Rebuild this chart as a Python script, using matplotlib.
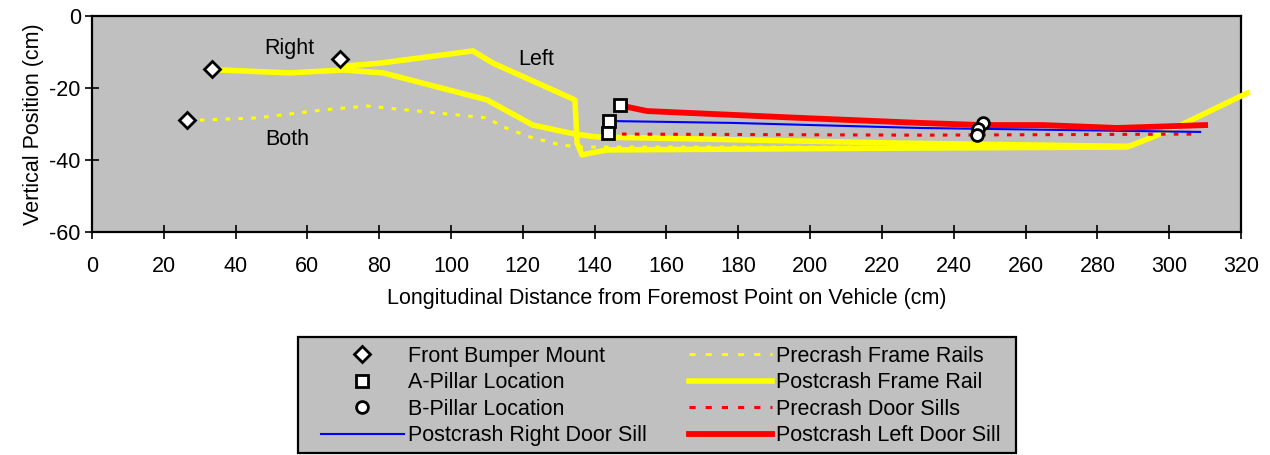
import matplotlib
matplotlib.use("Agg")
import matplotlib.pyplot as plt
from matplotlib.patches import Rectangle

plt.rcParams['font.family'] = ['Liberation Sans', 'DejaVu Sans']
plt.rcParams['axes.unicode_minus'] = False

# Front bumper mounts (diamonds)
bumper_x = [33.4, 69.1, 26.5]
bumper_y = [-14.7, -11.9, -28.9]

# A-pillar locations (squares)
apillar_x = [147.1, 144.0, 143.7]
apillar_y = [-24.7, -29.2, -32.5]

# B-pillar locations (circles)
bpillar_x = [248.2, 246.8, 246.5]
bpillar_y = [-29.7, -31.4, -33.0]

# Precrash frame rails (both sides)
pre_rail_x = [26.5, 30.6, 46.0, 64.3, 76.6, 87.7, 110.0, 114.5, 122.0, 130.4, 136.0, 225.0, 292.0]
pre_rail_y = [-28.9, -28.9, -28.3, -26.1, -25.0, -26.1, -28.3, -30.8, -33.6, -35.8, -36.4, -36.4, -36.1]

# Postcrash right frame rail
post_right_rail_x = [33.4, 35.7, 55.2, 69.9, 81.1, 110.0, 122.8, 134.5, 140.7, 225.0, 288.3]
post_right_rail_y = [-14.7, -15.0, -15.8, -15.0, -15.8, -23.3, -30.3, -32.8, -33.6, -35.3, -36.2]

# Postcrash left frame rail
post_left_rail_x = [69.5, 80.2, 106.1, 111.7, 134.5, 135.1, 136.5, 138.7, 143.5, 225.0, 288.3, 294.7, 302.2, 321.7]
post_left_rail_y = [-14.0, -13.1, -9.7, -13.1, -23.3, -35.3, -38.6, -38.1, -37.2, -36.7, -36.4, -33.9, -30.8, -21.4]

# Precrash door sills
pre_sill_x = [147.6, 230.6, 307.8]
pre_sill_y = [-32.8, -33.1, -32.8]

# Postcrash right door sill
post_right_sill_x = [146.2, 178.6, 230.6, 308.6]
post_right_sill_y = [-29.2, -29.7, -31.1, -32.2]

# Postcrash left door sill
post_left_sill_x = [147.1, 149.3, 154.6, 165.7, 197.2, 230.6, 248.2, 264.9, 285.5, 310.0]
post_left_sill_y = [-24.7, -25.3, -26.4, -26.9, -28.3, -29.7, -30.3, -30.3, -31.1, -30.3]

x_ticks = list(range(0, 321, 20))
y_ticks = [0, -20, -40, -60]

FS = 15.5
W, H = 1270, 455

fig = plt.figure(figsize=(12.7, 4.55), dpi=100)
ax = fig.add_axes([0.0724, 0.4901, 0.9048, 0.4747])
ax.set_facecolor('#C0C0C0')

dot = (0, (1.5, 2.7))
ax.plot(pre_rail_x, pre_rail_y, color='#FFFF00', lw=2.2, ls=dot, zorder=2,
        label='Precrash Frame Rails')
ax.plot(post_right_rail_x, post_right_rail_y, color='#FFFF00', lw=4.0,
        solid_joinstyle='round', zorder=3, label='Postcrash Frame Rail')
ax.plot(post_left_rail_x, post_left_rail_y, color='#FFFF00', lw=4.0,
        solid_joinstyle='round', zorder=3, clip_on=False)
ax.plot(pre_sill_x, pre_sill_y, color='#FF0000', lw=2.2, ls=dot, zorder=4,
        label='Precrash Door Sills')
ax.plot(post_right_sill_x, post_right_sill_y, color='#0000FF', lw=1.5, zorder=5,
        label='Postcrash Right Door Sill')
ax.plot(post_left_sill_x, post_left_sill_y, color='#FF0000', lw=4.2, zorder=6,
        solid_joinstyle='round', label='Postcrash Left Door Sill')

mk = dict(ls='none', mfc='white', mec='black', mew=2.0, zorder=8, clip_on=False)
ax.plot(bumper_x, bumper_y, marker='D', ms=8, label='Front Bumper Mount', **mk)
ax.plot(apillar_x, apillar_y, marker='s', ms=8, label='A-Pillar Location', **mk)
ax.plot(bpillar_x, bpillar_y, marker='o', ms=8.5, label='B-Pillar Location', **mk)

ax.text(54.9, -8.9, 'Right', fontsize=FS, ha='center', va='center')
ax.text(123.7, -12.2, 'Left', fontsize=FS, ha='center', va='center')
ax.text(54.3, -34.4, 'Both', fontsize=FS, ha='center', va='center')

ax.set_xlim(0, 320)
ax.set_ylim(-60, 0)
ax.set_xticks(x_ticks)
ax.set_yticks(y_ticks)
ax.tick_params(direction='inout', length=10, width=1.2, labelsize=FS)
ax.tick_params(axis='x', pad=12)
ax.tick_params(axis='y', pad=3)
for s in ax.spines.values():
    s.set_linewidth(1.6)
ax.set_xlabel('Longitudinal Distance from Foremost Point on Vehicle (cm)', fontsize=FS, labelpad=8)
ax.set_ylabel('Vertical Position (cm)', fontsize=FS, labelpad=4)

# legend box
fig.patches.append(Rectangle((298 / W, 1 - 453 / H), (1016 - 298) / W, (453 - 337) / H,
                             transform=fig.transFigure, facecolor='#C0C0C0',
                             edgecolor='black', linewidth=1.6, zorder=0))

handles, labels = ax.get_legend_handles_labels()
order = ['Front Bumper Mount', 'A-Pillar Location', 'B-Pillar Location',
         'Postcrash Right Door Sill', 'Precrash Frame Rails', 'Postcrash Frame Rail',
         'Precrash Door Sills', 'Postcrash Left Door Sill']
hmap = dict(zip(labels, handles))
leg = fig.legend([hmap[k] for k in order], order, ncol=2, loc='upper left',
                 bbox_to_anchor=(321 / W, 1 - 346 / H), bbox_transform=fig.transFigure,
                 fontsize=FS, frameon=False, borderaxespad=0, borderpad=0,
                 handlelength=3.85, handletextpad=0.2, columnspacing=1.95,
                 labelspacing=0.25, numpoints=1)
for h in leg.legend_handles:
    if h.get_linestyle() not in ('-', 'None', ''):
        h.set_linestyle((0, (2.0, 3.3)))

fig.savefig('out.png', dpi=100)
